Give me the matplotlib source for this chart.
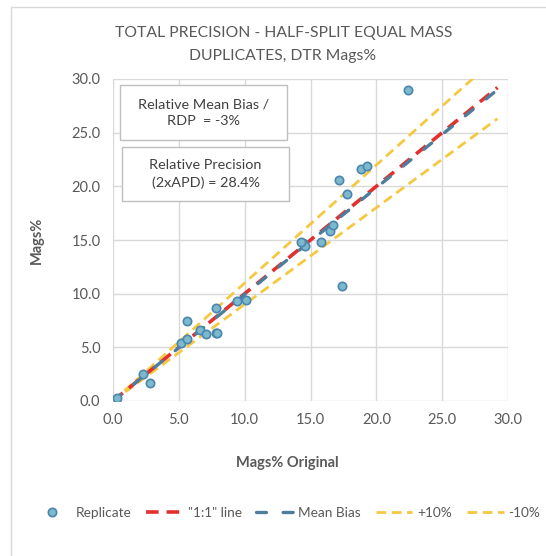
import matplotlib
matplotlib.use('Agg')
import matplotlib.pyplot as plt
from matplotlib.patches import Rectangle

plt.rcParams['font.family'] = ['Lato', 'DejaVu Sans']

# data
original = [0.3, 2.3, 2.8, 5.2, 5.6, 5.6, 6.6, 7.1, 7.8, 7.9, 7.8, 9.4, 10.1,
            14.4, 14.6, 14.3, 15.8, 16.5, 16.7, 17.2, 17.4, 17.8, 18.8, 19.3, 22.4]
replicate = [0.3, 2.5, 1.7, 5.4, 5.8, 7.5, 6.6, 6.2, 6.3, 6.3, 8.7, 9.3, 9.4,
             14.7, 14.4, 14.8, 14.8, 15.8, 16.4, 20.6, 10.7, 19.3, 21.6, 21.9, 29.0]
line_x = [0.0, 29.2]
one_to_one = [0.0, 29.2]
mean_bias = [0.0, 29.0]
plus10 = [0.0, 32.1]
minus10 = [0.0, 26.3]
ticks = [0, 5, 10, 15, 20, 25, 30]
tick_labels = ['0.0', '5.0', '10.0', '15.0', '20.0', '25.0', '30.0']

W, H = 546, 556
grey = '#595959'

fig = plt.figure(figsize=(W / 100, H / 100), dpi=100)

def px(x, y):    # pixel -> figure fraction
    return x / W, 1 - y / H

# outer chart border
fig.patches.append(Rectangle(px(11, 600), (600 - 11) / W, (600 - 7) / H, transform=fig.transFigure,
                             fill=False, edgecolor='#d9d9d9', linewidth=1))

ax = fig.add_axes([113 / W, 1 - 401 / H, (508 - 113) / W, (401 - 79) / H])
ax.set_xlim(0, 30)
ax.set_ylim(0, 30)
ax.set_xticks(ticks)
ax.set_yticks(ticks)
ax.set_xticklabels(tick_labels)
ax.set_yticklabels(tick_labels)
ax.tick_params(length=0, labelsize=10.5, labelcolor=grey, pad=9)
ax.grid(True, color='#d9d9d9', linewidth=1)
ax.set_axisbelow(True)
for s in ax.spines.values():
    s.set_visible(False)

ax.plot(line_x, plus10, color='#f5c842', linewidth=2, dashes=(3.5, 2), label='+10%')
ax.plot(line_x, minus10, color='#f5c842', linewidth=2, dashes=(3.5, 2), label='-10%')
ax.plot(line_x, one_to_one, color='#e0312f', linewidth=2.6, dashes=(3.5, 2.2), label='"1:1" line')
ax.plot(line_x, mean_bias, color='#4f7d9c', linewidth=2.4, dashes=(3.0, 5.0), dash_capstyle='round',
        label='Mean Bias')
ax.plot(original, replicate, linestyle='none', marker='o', markersize=6, markerfacecolor='#7db9cc',
        markeredgecolor='#4a86ae', markeredgewidth=1.2, label='Replicate')

# annotation boxes
for (x0, y0, x1, y1), txt in [((120, 85, 287, 140), 'Relative Mean Bias /\nRDP  = -3%'),
                              ((122, 147, 289, 201), 'Relative Precision\n(2xAPD) = 28.4%')]:
    fig.patches.append(Rectangle(px(x0, y1), (x1 - x0) / W, (y1 - y0) / H, transform=fig.transFigure,
                                 facecolor='white', edgecolor='#bfbfbf', linewidth=1, zorder=5))
    cx, cy = px((x0 + x1) / 2, (y0 + y1) / 2)
    fig.text(cx, cy, txt, ha='center', va='center', fontsize=10.4, color='#404040',
             linespacing=1.45, zorder=6)

fig.text(*px(284, 33), 'TOTAL PRECISION - HALF-SPLIT EQUAL MASS', ha='center', va='center',
         fontsize=11.3, color=grey)
fig.text(*px(283, 56), 'DUPLICATES, DTR Mags%', ha='center', va='center', fontsize=11.3, color=grey)
fig.text(*px(287, 463), 'Mags% Original', ha='center', va='center', fontsize=10.5,
         fontweight='bold', color=grey)
fig.text(*px(37, 240), 'Mags%', ha='center', va='center', rotation=90, fontsize=10.5,
         fontweight='bold', color=grey)

handles, labels = ax.get_legend_handles_labels()
order = [4, 2, 3, 0, 1]
fig.legend([handles[i] for i in order], [labels[i] for i in order], loc='center',
           bbox_to_anchor=px(287, 513), ncol=5, frameon=False, fontsize=9.8, labelcolor=grey,
           handlelength=2.7, handletextpad=0.35, columnspacing=1.1)

plt.savefig('out.png', dpi=100)
